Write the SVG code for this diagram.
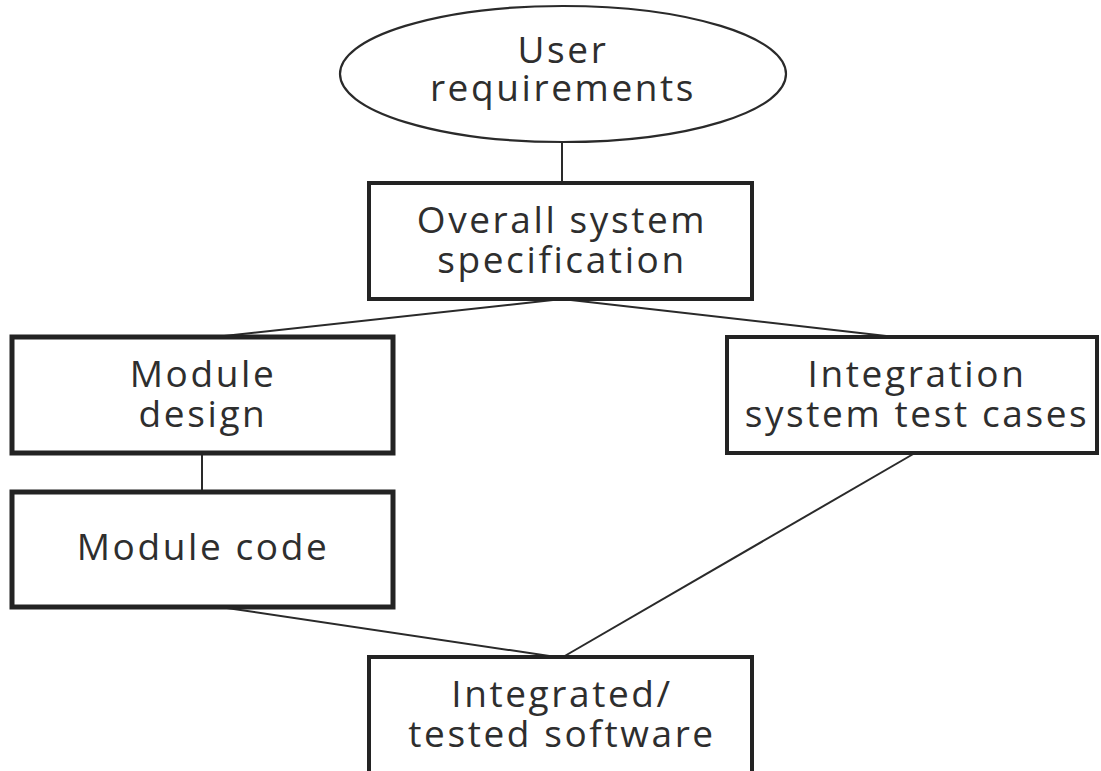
<svg xmlns="http://www.w3.org/2000/svg" width="1101" height="771" viewBox="0 0 1101 771">
  <style>
    .box { fill: #ffffff; stroke: #232323; stroke-width: 4; }
    .oval { fill: #ffffff; stroke: #2a2a2a; stroke-width: 2.2; }
    .link { fill: none; stroke: #2a2a2a; stroke-width: 2; }
    .label { font-family: "Open Sans", "Noto Sans", "DejaVu Sans", sans-serif; font-size: 37px; font-weight: 500; letter-spacing: 2.6px; fill: #2e2e2e; text-anchor: middle; }
  </style>
  <rect width="1101" height="771" fill="#ffffff"/>

  <!-- connectors between stages -->
  <g id="connectors">
    <line class="link" x1="562" y1="142" x2="562" y2="183"/>
    <line class="link" x1="562" y1="299" x2="215" y2="337"/>
    <line class="link" x1="562" y1="299" x2="895" y2="337"/>
    <line class="link" x1="202" y1="453" x2="202" y2="492"/>
    <line class="link" x1="220" y1="607" x2="556" y2="657"/>
    <line class="link" x1="915" y1="453" x2="563" y2="657"/>
  </g>

  <g id="user-requirements">
    <ellipse class="oval" cx="563" cy="74" rx="223" ry="68"/>
    <text class="label" x="563" y="63">User</text>
    <text class="label" x="563" y="101">requirements</text>
  </g>

  <g id="overall-spec">
    <rect class="box" x="369" y="183" width="383" height="116"/>
    <text class="label" x="562" y="233">Overall system</text>
    <text class="label" x="562" y="273">specification</text>
  </g>

  <g id="module-design">
    <rect class="box" x="12" y="337" width="381" height="116" style="stroke-width:5"/>
    <text class="label" x="203" y="387">Module</text>
    <text class="label" x="203" y="427">design</text>
  </g>

  <g id="integration-tests">
    <rect class="box" x="727" y="337" width="370" height="116"/>
    <text class="label" x="917" y="387">Integration</text>
    <text class="label" x="917" y="427">system test cases</text>
  </g>

  <g id="module-code">
    <rect class="box" x="12" y="492" width="381" height="115" style="stroke-width:5"/>
    <text class="label" x="203" y="560">Module code</text>
  </g>

  <g id="integrated-software">
    <rect class="box" x="369" y="657" width="383" height="120"/>
    <text class="label" x="562" y="707">Integrated/</text>
    <text class="label" x="562" y="747">tested software</text>
  </g>
</svg>
